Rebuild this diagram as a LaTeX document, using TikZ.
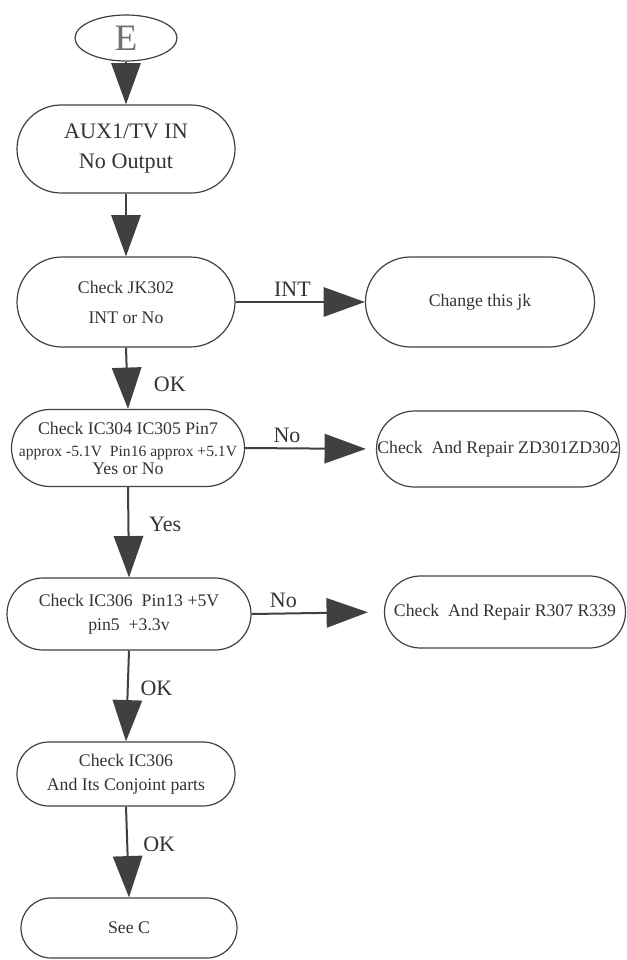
\documentclass[tikz,border=0pt]{standalone}
\usepackage{fontspec}
\setmainfont{Liberation Serif}
\usetikzlibrary{arrows.meta,shapes.geometric,positioning}
\definecolor{linegray}{HTML}{404040}
\definecolor{textgray}{HTML}{333333}
\definecolor{egray}{HTML}{707070}
\def\flowbox(#1,#2,#3,#4,#5,#6,#7){
  \node[fbox, minimum width=#4, minimum height=#5, rounded corners=#5/2, font=#6] (#1) at (#2,#3) {#7};
}

\begin{document}
\begin{tikzpicture}[x=0.75pt, y=-0.75pt,
  fbox/.style={draw=linegray, line width=0.9pt, inner sep=0pt, align=center, text=textgray},
  flow/.style={draw=linegray, line width=1.5pt, -{Triangle[length=31pt, width=22pt]}},
  lbl/.style={text=textgray, font=\fontsize{16.5}{18}\selectfont}]
\useasboundingbox (0,0) rectangle (626,960);
\node[draw=linegray, line width=0.9pt, ellipse, minimum width=76.5pt, minimum height=34.5pt, inner sep=0pt, text=egray, font=\fontsize{28}{30}\selectfont] (start_e) at (126,38) {E};
\flowbox(aux_in,126,149,163.5pt,66pt,\fontsize{16.6}{22.5}\selectfont,AUX1/TV IN\\No Output)
\flowbox(chk_jk,126,302,163.5pt,67.5pt,\fontsize{13.3}{18}\selectfont,Check JK302\\[4.5pt]INT or No)
\flowbox(chg_jk,480,302,171.75pt,67.5pt,\fontsize{13.3}{18}\selectfont,Change this jk)
\flowbox(chk_ic,128,448,174.75pt,57.75pt,\fontsize{13.3}{18}\selectfont,Check IC304 IC305 Pin7\\[-1.5pt]{\fontsize{11.7}{14}\selectfont approx -5.1V~ Pin16 approx +5.1V}\\[-4.5pt]Yes or No)
\flowbox(rep_zd,498,449,182.25pt,57pt,\fontsize{13.3}{18}\selectfont,Check~ And Repair ZD301ZD302)
\flowbox(chk_pin,129,614,183pt,54pt,\fontsize{13.3}{18}\selectfont,Check IC306~ Pin13 +5V\\pin5~ +3.3v)
\flowbox(rep_r,505,612,180.75pt,54pt,\fontsize{13.3}{18}\selectfont,Check~ And Repair R307 R339)
\flowbox(chk_part,126,774,163.5pt,48pt,\fontsize{13.3}{18}\selectfont,Check IC306\\And Its Conjoint parts)
\flowbox(see_c,129,928,162pt,45pt,\fontsize{13.3}{18}\selectfont,See C)

\draw[flow] (start_e.south) -- (aux_in.north);
\draw[flow] (aux_in.south) -- (chk_jk.north);
\draw[flow] (chk_jk.east) -- node[lbl, above, pos=0.44] {INT} (chg_jk.west);
\draw[flow] (chk_jk.south) -- node[lbl, right=16pt, pos=0.6] {OK} (chk_ic.north);
\draw[flow, shorten >=7.5pt] (chk_ic.east) -- node[lbl, above, pos=0.32] {No} (rep_zd.west);
\draw[flow] (chk_ic.south) -- node[lbl, right=11.5pt, pos=0.41] {Yes} (chk_pin.north);
\draw[flow, shorten >=12pt] (chk_pin.east) -- node[lbl, above, pos=0.24] {No} (rep_r.west);
\draw[flow] (chk_pin.south) -- node[lbl, right=5.5pt, pos=0.42] {OK} (chk_part.north);
\draw[flow] (chk_part.south) -- node[lbl, right=8pt, pos=0.41] {OK} (see_c.north);
\end{tikzpicture}
\end{document}
